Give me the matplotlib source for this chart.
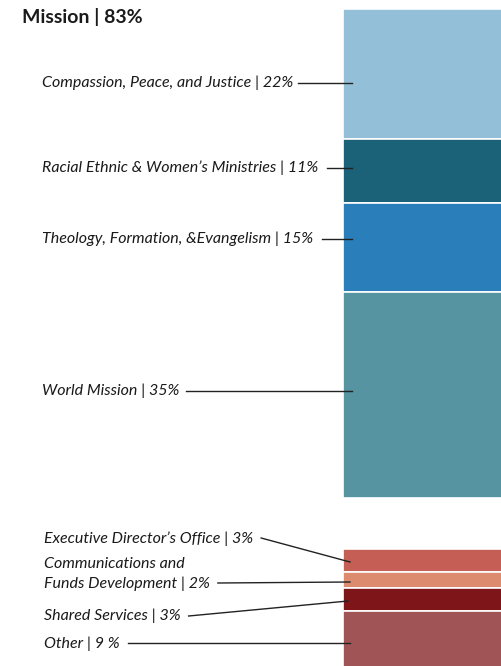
import matplotlib
matplotlib.use("Agg")
import matplotlib.pyplot as plt

# Data
mission_labels = ["Compassion, Peace, and Justice", "Racial Ethnic & Women\u2019s Ministries",
                  "Theology, Formation, &Evangelism", "World Mission"]
mission_values = [22, 11, 15, 35]
mission_colors = ["#93BFD8", "#1B6177", "#2A7FBB", "#5594A0"]

other_labels = ["Executive Director\u2019s Office", "Communications and\nFunds Development",
                "Shared Services", "Other"]
other_values = [3, 2, 3, 9]
other_value_text = ["3%", "2%", "3%", "9 %"]
other_colors = ["#C55F56", "#DC8B6F", "#7D1519", "#A15455"]

W, H = 501, 666
fig = plt.figure(figsize=(W / 100, H / 100), dpi=100)

def fa(x0, y0, x1, y1):
    return [x0 / W, 1 - y1 / H, (x1 - x0) / W, (y1 - y0) / H]

ax1 = fig.add_axes(fa(343, 9, 520, 498))
bottom = 0
for v, c in zip(mission_values, mission_colors):
    ax1.bar(0.5, v, bottom=bottom, width=1, color=c, edgecolor="white", linewidth=1.2)
    bottom += v
ax1.set_xlim(0, 1)
ax1.set_ylim(sum(mission_values), 0)
ax1.axis("off")

ax2 = fig.add_axes(fa(343, 549, 520, 680))
bottom = 0
for v, c in zip(other_values, other_colors):
    ax2.bar(0.5, v, bottom=bottom, width=1, color=c, edgecolor="white", linewidth=1.2)
    bottom += v
ax2.set_xlim(0, 1)
ax2.set_ylim(sum(other_values), 0)
ax2.axis("off")

ov = fig.add_axes([0, 0, 1, 1])
ov.set_xlim(0, W)
ov.set_ylim(H, 0)
ov.axis("off")

fam = ["Lato", "DejaVu Sans"]
fs = 11.5
tc = "#1a1a1a"
ov.text(22, 17, f"Mission | {sum(mission_values)}%", fontsize=14, fontweight="bold",
        family=fam, va="center", ha="left", color=tc)

renderer = fig.canvas.get_renderer()

def text_end(t):
    bb = t.get_window_extent(renderer=renderer)
    return bb.x1  # pixels, same as overlay x units

# label layout (pixel positions)
m_text_y = [83, 168, 239, 391]
m_gap = [5, 9, 9, 7]
for lab, v, ty, g in zip(mission_labels, mission_values, m_text_y, m_gap):
    t = ov.text(42, ty, f"{lab} | {v}%", fontsize=fs, style="italic", family=fam,
                va="center", ha="left", color=tc)
    x0 = text_end(t) + g
    ov.plot([x0, 352], [ty, ty], color="#222222", lw=1)

o_text_y = [539, 574, 616, 644]
o_line_y = [(538, 562), (583, 582), (616, 601), (643, 643)]
o_line_end = [350, 350, 348, 350]
for lab, vt, ty, (y0, y1), xe in zip(other_labels, other_value_text, o_text_y, o_line_y, o_line_end):
    t = ov.text(44, ty, f"{lab} | {vt}", fontsize=fs, style="italic", family=fam,
                va="center", ha="left", linespacing=1.45, color=tc)
    x0 = text_end(t) + 8
    ov.plot([x0, xe], [y0, y1], color="#222222", lw=1)

fig.savefig("out.png", dpi=100)
